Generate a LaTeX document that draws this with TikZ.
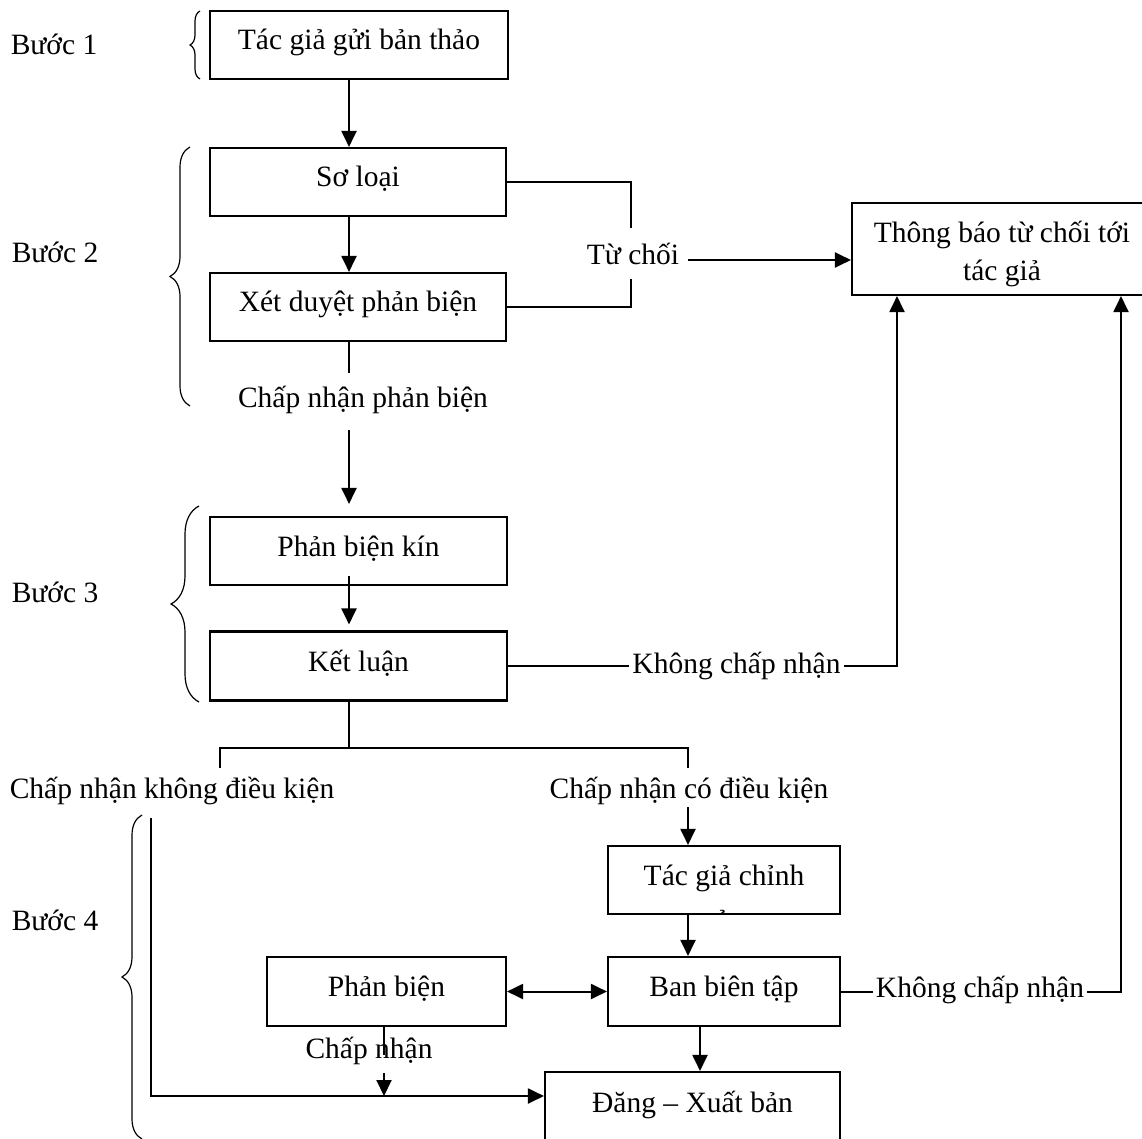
\documentclass[tikz,border=0pt]{standalone}
\usepackage{fontspec}
\setmainfont{Liberation Serif}
\usetikzlibrary{arrows.meta,decorations.pathreplacing}
\begin{document}
\begin{tikzpicture}[x=1pt,y=-1pt,
  every node/.style={font=\fontsize{29.5}{38}\selectfont},
  ln/.style={line width=2pt},
  arr/.style={ln,-{Triangle[length=16pt,width=15pt]}},
  arrb/.style={ln,{Triangle[length=16pt,width=15pt]}-{Triangle[length=16pt,width=15pt]}},
  box/.style={draw,line width=2.1pt,inner sep=0pt,text height=22pt,text depth=12pt},
  lbl/.style={inner sep=3pt,anchor=base},
  brc/.style={line width=1.2pt,decorate,decoration={brace,amplitude=#1}}
]
\useasboundingbox (0,0) rectangle (1142,1139);
\clip (0,0) rectangle (1142,1139);

% column coordinates
\coordinate (cx) at (349,0);
\coordinate (v1) at (897,0);
\coordinate (v2) at (1121,0);
\coordinate (c2) at (688,0);
\coordinate (c3) at (700,0);
\coordinate (c4) at (384,0);

% step labels
\node[lbl] (s1) at (54,55) {Bước 1};
\node[lbl] (s2) at (55,263) {Bước 2};
\node[lbl] (s3) at (55,602) {Bước 3};
\node[lbl] (s4) at (55,930) {Bước 4};

% braces
\draw[brc=10pt] (200,79) -- (200,11);
\draw[brc=20pt] (190,406) -- (190,147);
\draw[brc=28pt] (199,702) -- (199,506);
\draw[brc=20pt] (142,1139) -- (142,815);

% boxes
\node[box,minimum width=298pt,minimum height=68pt] (b1) at (359,45) {Tác giả gửi bản thảo};
\node[box,minimum width=296pt,minimum height=68pt] (sl) at (358,182) {Sơ loại};
\node[box,minimum width=296pt,minimum height=68pt] (xd) at (358,307) {Xét duyệt phản biện};
\node[box,minimum width=297pt,minimum height=68pt] (pk) at (358.5,551) {Phản biện kín};
\node[box,minimum width=297pt,minimum height=69pt] (kl) at (358.5,666) {Kết luận};
\node[draw,line width=2.1pt,inner sep=0pt,minimum width=300pt,minimum height=92pt,align=center] (tb) at (1002,249) {\rule{0pt}{31pt}Thông báo từ chối tới\\tác giả};
\node[box,minimum width=232pt,minimum height=68pt] (tgc) at (724,880) {Tác giả chỉnh};
\begin{scope}
  \clip (608,846) rectangle (840,912.5);
  \node[lbl] (tgc2) at (724,930) {sửa};
\end{scope}
\node[box,minimum width=232pt,minimum height=69pt] (bbt) at (724,991.5) {Ban biên tập};
\node[box,minimum width=239pt,minimum height=69pt] (pb) at (386.5,991.5) {Phản biện};
\node[box,minimum width=295pt,minimum height=70pt] (dxb) at (692.5,1107) {Đăng – Xuất bản};

% labels
\node[lbl] (tc) at (633,265) {Từ chối};
\node[lbl] (cnpb) at (363,407) {Chấp nhận phản biện};
\node[lbl] (kcn1) at (736.5,673) {Không chấp nhận};
\node[lbl] (cnk) at (172,798) {Chấp nhận không điều kiện};
\node[lbl] (ccd) at (689,798) {Chấp nhận có điều kiện};
\node[lbl] (kcn2) at (980,997) {Không chấp nhận};
\node[lbl] (cn) at (369,1058) {Chấp nhận};

% free-end coordinates
\coordinate (tcu) at (631,228);
\coordinate (tcd) at (631,279);
\coordinate (tcr) at (688,260);
\coordinate (xdb) at (349,373);
\coordinate (cnpbb) at (349,430);
\coordinate (klb) at (349,748);
\coordinate (hl) at (220,748);
\coordinate (hr) at (688,748);
\coordinate (hlb) at (220,768);
\coordinate (hrb) at (688,768);
\coordinate (vtop) at (151,818);
\coordinate (vbot) at (151,1096);
\coordinate (pbl) at (384,1055);
\coordinate (pba) at (384,1073);

% connectors
\draw[arr] (b1.south -| cx) -- (sl.north -| cx);
\draw[arr] (sl.south -| cx) -- (xd.north -| cx);
\draw[ln] (sl.east) -- (sl.east -| tcu) -- (tcu);
\draw[ln] (xd.east) -- (xd.east -| tcd) -- (tcd);
\draw[arr] (tcr) -- (tcr -| tb.west);
\draw[ln] (xd.south -| cx) -- (xdb);
\draw[arr,shorten >=12pt] (cnpbb) -- (pk.north -| cx);
\draw[arr,shorten >=6pt] ([yshift=10pt]pk.south -| cx) -- (kl.north -| cx);
\draw[ln] (kl.south -| cx) -- (klb);
\draw[ln] (hlb) -- (hl) -- (hr) -- (hrb);
\draw[ln] (kl.east) -- (kcn1.west |- kl.east);
\draw[arr] (kcn1.east |- kl.east) -- (kl.east -| v1) -- (tb.south -| v1);
\draw[arr] (ccd.south -| c2) -- (tgc.north -| c2);
\draw[arr] (tgc.south -| c2) -- (bbt.north -| c2);
\draw[arr] (bbt.south -| c3) -- (dxb.north -| c3);
\draw[arrb] (pb.east) -- (bbt.west);
\draw[ln] (bbt.east) -- (kcn2.west |- bbt.east);
\draw[arr] (kcn2.east |- bbt.east) -- (bbt.east -| v2) -- (tb.south -| v2);
\draw[ln] (pb.south -| c4) -- (pbl);
\draw[arr] (pba) -- (pba |- vbot);
\draw[arr] (vtop) -- (vbot) -- (vbot -| dxb.west);
\end{tikzpicture}
\end{document}
